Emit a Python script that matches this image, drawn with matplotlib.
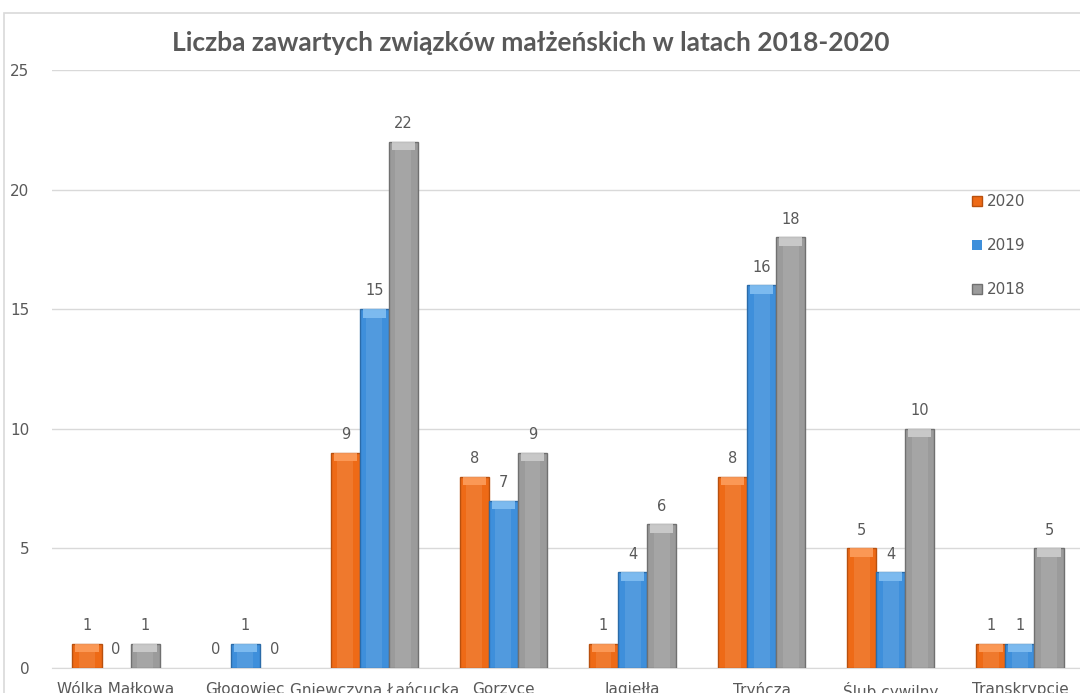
import numpy as np
import matplotlib.pyplot as plt
from matplotlib.patches import Rectangle

# data
categories = ['Wólka Małkowa', 'Głogowiec', 'Gniewczyna Łańcucka', 'Gorzyce',
              'Jagiełła', 'Tryńcza', 'Ślub cywilny', 'Transkrypcje']
series_names = ['2020', '2019', '2018']
values_2020 = [1, 0, 9, 8, 1, 8, 5, 1]
values_2019 = [0, 1, 15, 7, 4, 16, 4, 1]
values_2018 = [1, 0, 22, 9, 6, 18, 10, 5]
y_ticks = [0, 5, 10, 15, 20, 25]

colors = ['#EE6A16', '#3E8FDB', '#9B9B9B']
edges = ['#B8500E', '#2B6BA8', '#707070']
tops = ['#FFA466', '#8CC6F5', '#D4D4D4']
text_grey = '#595959'

fig = plt.figure(figsize=(10.8, 6.93), dpi=100)
# outer chart frame
fig.patches.append(Rectangle((4 / 1080, -0.1), 1.2, 1 - 13 / 693 + 0.1,
                             transform=fig.transFigure, fill=False,
                             edgecolor='#D9D9D9', linewidth=1.2))

ax = fig.add_axes([51.5 / 1080, 25 / 693, 1033 / 1080, 598 / 693])

x = np.arange(len(categories))
width = 0.225
all_values = [values_2020, values_2019, values_2018]

for i, vals in enumerate(all_values):
    pos = x + (i - 1) * width
    vals = np.array(vals)
    # zero bars stay invisible, like in the original
    edge_list = [edges[i] if v > 0 else 'none' for v in vals]
    ax.bar(pos, vals, width, color=colors[i], edgecolor=edge_list, linewidth=1.0,
           label=series_names[i], zorder=3)
    # bevel-ish highlight on top of each bar
    cap = np.minimum(vals, 0.35)
    ax.bar(pos, cap, width * 0.8, bottom=vals - cap, color=tops[i],
           linewidth=0, zorder=4, alpha=0.8)
    # inner lighter strip along the bar
    ax.bar(pos, np.maximum(vals - 0.35, 0), width * 0.55, color='white',
           alpha=0.10, linewidth=0, zorder=4)
    for xp, v in zip(pos, vals):
        ax.text(xp, v + 0.45, str(v), ha='center', va='bottom', fontsize=10.5,
                color=text_grey, zorder=5)

ax.set_xlim(-0.5, len(categories) - 0.5)
ax.set_ylim(0, 25)
ax.set_yticks(y_ticks)
ax.set_xticks(x)
ax.set_xticklabels(categories)
ax.tick_params(axis='both', length=0, labelsize=11, colors=text_grey)
ax.tick_params(axis='x', pad=10)
ax.tick_params(axis='y', pad=16)
ax.yaxis.grid(True, color='#D9D9D9', linewidth=1.0, zorder=0)
for side in ['top', 'right', 'left']:
    ax.spines[side].set_visible(False)
ax.spines['bottom'].set_color('#D9D9D9')

leg = ax.legend(loc='upper left', bbox_to_anchor=(0.878, 0.815), frameon=False,
                fontsize=11, handlelength=0.65, handleheight=0.65, handletextpad=0.3,
                labelspacing=1.9)
for t in leg.get_texts():
    t.set_color(text_grey)

fig.text(0.491, 1 - 43 / 693, 'Liczba zawartych związków małżeńskich w latach 2018-2020',
         ha='center', va='center', fontsize=19, fontweight='bold',
         family=['Lato', 'DejaVu Sans'], color=text_grey)

fig.savefig('out.png', dpi=100)
